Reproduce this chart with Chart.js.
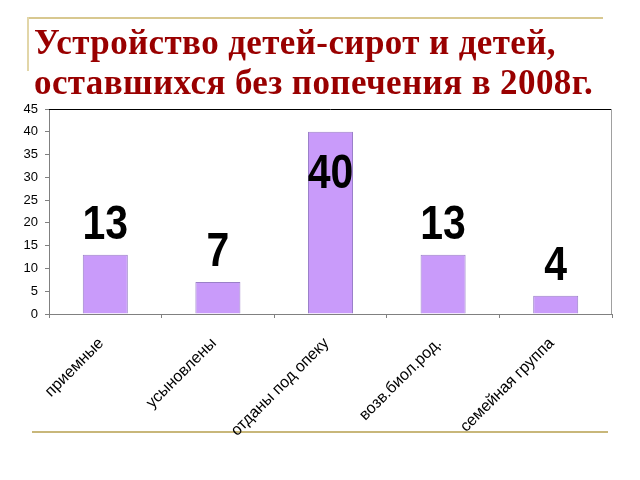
<!DOCTYPE html>
<html>
<head>
<meta charset="utf-8">
<script src="https://cdn.jsdelivr.net/npm/chart.js@4/dist/chart.umd.min.js"></script>
<style>
  html, body { margin: 0; padding: 0; background: #fff; }
  #wrap { position: relative; width: 640px; height: 480px; overflow: hidden; }
  #chart { position: absolute; left: 0; top: 0; }
  .line { position: absolute; }
  #title {
    position: absolute; left: 34px; top: 23px; z-index: 2;
    font-family: "Liberation Serif", serif; font-weight: bold;
    font-size: 35px; line-height: 40px; color: #990000;
    letter-spacing: 0.4px; white-space: nowrap;
  }
</style>
</head>
<body>
<div id="wrap">
  <div class="line" style="left:27px;top:17px;width:576px;height:2px;background:#d8c890"></div>
  <div class="line" style="left:27px;top:17px;width:2px;height:54px;background:#e2d6a8"></div>
  <div class="line" style="left:32px;top:431px;width:576px;height:2px;background:#c8b77a"></div>
  <canvas id="chart" width="640" height="480"></canvas>
  <div id="title">Устройство детей-сирот и детей,<br>оставшихся без попечения в 2008г.</div>
</div>
<script>
// данные
const categories = ['приемные', 'усыновлены', 'отданы под опеку', 'возв.биол.род.', 'семейная группа'];
const values = [13, 7, 40, 13, 4];
const yTicks = [0, 5, 10, 15, 20, 25, 30, 35, 40, 45];

// рамка области построения: верх чёрный, справа серый
const plotFrame = {
    id: 'plotFrame',
    beforeDatasetsDraw(chart) {
        const { ctx, chartArea: a } = chart;
        ctx.save();
        ctx.lineWidth = 1;
        ctx.strokeStyle = '#000000';
        ctx.beginPath();
        ctx.moveTo(a.left, a.top + 0.5);
        ctx.lineTo(a.right, a.top + 0.5);
        ctx.stroke();
        ctx.strokeStyle = '#a0a0a0';
        ctx.beginPath();
        ctx.moveTo(a.right - 0.5, a.top);
        ctx.lineTo(a.right - 0.5, a.bottom);
        ctx.stroke();
        ctx.restore();
    }
};

// крупные подписи значений над столбцами
const valueLabels = {
    id: 'valueLabels',
    afterDatasetsDraw(chart) {
        const { ctx, chartArea: a } = chart;
        const meta = chart.getDatasetMeta(0);
        ctx.save();
        ctx.fillStyle = '#000000';
        ctx.font = 'bold 41px "Liberation Sans", Arial, sans-serif';
        ctx.textAlign = 'center';
        ctx.textBaseline = 'alphabetic';
        meta.data.forEach((bar, i) => {
            const y = Math.max(bar.y - 16, a.top + 79);
            ctx.save();
            ctx.translate(bar.x, y);
            ctx.scale(1, 1.18);
            ctx.fillText(String(values[i]), 0, 0);
            ctx.restore();
        });
        ctx.restore();
    }
};

new Chart(document.getElementById('chart'), {
    type: 'bar',
    data: {
        labels: categories,
        datasets: [{
            data: values,
            backgroundColor: '#c99bfa',
            borderColor: '#9a80c8',
            borderWidth: 1,
            barPercentage: 0.4,
            categoryPercentage: 1
        }]
    },
    options: {
        responsive: false,
        animation: false,
        layout: { padding: { top: 109, right: 28, left: 0, bottom: 0 } },
        plugins: {
            legend: { display: false },
            tooltip: { enabled: false },
            title: { display: false }
        },
        scales: {
            x: {
                afterFit(scale) { scale.height = 166; },
                border: { color: '#808080' },
                grid: { drawOnChartArea: false, tickLength: 4, color: '#808080' },
                ticks: {
                    minRotation: 45,
                    maxRotation: 45,
                    padding: 16,
                    labelOffset: -4,
                    color: '#000000',
                    font: { family: '"Liberation Sans", Arial, sans-serif', size: 16 }
                }
            },
            y: {
                min: 0,
                max: 45,
                afterFit(scale) { scale.width = 49; },
                afterBuildTicks(scale) { scale.ticks = yTicks.map(v => ({ value: v })); },
                border: { color: '#808080' },
                grid: { drawOnChartArea: false, tickLength: 4, color: '#808080' },
                ticks: {
                    padding: 7,
                    color: '#000000',
                    font: { family: '"Liberation Sans", Arial, sans-serif', size: 13 }
                }
            }
        }
    },
    plugins: [plotFrame, valueLabels]
});
</script>
</body>
</html>
